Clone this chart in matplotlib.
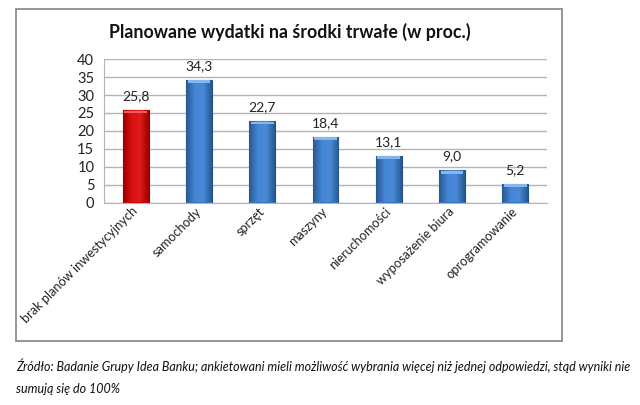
import matplotlib
matplotlib.use("Agg")
import matplotlib.pyplot as plt
import numpy as np
from matplotlib.patches import Rectangle
from matplotlib.colors import LinearSegmentedColormap

categories = ["brak planów inwestycyjnych", "samochody", "sprzęt", "maszyny",
              "nieruchomości", "wyposażenie biura", "oprogramowanie"]
values = [25.8, 34.3, 22.7, 18.4, 13.1, 9.0, 5.2]
highlight = [True, False, False, False, False, False, False]
yticks = [0, 5, 10, 15, 20, 25, 30, 35, 40]

title = "Planowane wydatki na środki trwałe (w proc.)"
note1 = "Źródło: Badanie Grupy Idea Banku; ankietowani mieli możliwość wybrania więcej niż jednej odpowiedzi, stąd wyniki nie"
note2 = "sumują się do 100%"

plt.rcParams['font.family'] = ['Lato', 'DejaVu Sans']

W, H = 640, 405
fig = plt.figure(figsize=(W / 100, H / 100), dpi=100)

# outer frame around the chart
fig.patches.append(Rectangle((16 / W, 1 - 341 / H), (562 - 16) / W, (341 - 9) / H,
                             transform=fig.transFigure, fill=False,
                             edgecolor="#8c8c8c", linewidth=1.3))

ax = fig.add_axes([104 / W, 1 - 202.5 / H, (547 - 104) / W, (202.5 - 59.3) / H])
x = np.arange(len(categories))
cols = ["#cc0a0a" if h else "#3b78c6" for h in highlight]
edges = ["#8a0000" if h else "#24508a" for h in highlight]
bars = ax.bar(x, values, width=0.41, color=cols, edgecolor=edges, linewidth=0.8, zorder=3)

# excel-like shading: horizontal gradient + lighter top bevel
red_cm = LinearSegmentedColormap.from_list("r", ["#9c0000", "#d81212", "#e01a1a", "#9c0000"])
blue_cm = LinearSegmentedColormap.from_list("b", ["#285890", "#4585d6", "#4a8ad8", "#285890"])
grad = np.linspace(0, 1, 64).reshape(1, -1)
for b, h in zip(bars, highlight):
    bx, bw, bh = b.get_x(), b.get_width(), b.get_height()
    im = ax.imshow(grad, cmap=red_cm if h else blue_cm, aspect="auto",
                   extent=(bx, bx + bw, 0, bh), zorder=3.5, interpolation="bilinear")
    im.set_clip_path(b)
    light = "#f06060" if h else "#86b6ee"
    ax.add_patch(Rectangle((bx + bw * 0.06, bh - 0.9), bw * 0.88, 0.75, color=light,
                           zorder=4, lw=0))

for xi, v in zip(x, values):
    ax.text(xi, v + 2.2, f"{v:.1f}".replace(".", ","), ha="center", va="bottom",
            fontsize=10, color="#222222")

ax.set_xlim(-0.5, len(categories) - 0.5)
ax.set_ylim(0, 40)
ax.set_yticks(yticks)
ax.set_yticklabels([str(t) for t in yticks], fontsize=10.5, color="#222222")
ax.yaxis.grid(True, color="#b4b4b4", linewidth=1.0, zorder=0)
ax.set_axisbelow(True)
ax.tick_params(axis="y", length=0, pad=7)
ax.tick_params(axis="x", length=0, pad=5)
ax.set_xticks(x)
ax.set_xticklabels(categories, rotation=45, ha="right", va="center",
                   rotation_mode="anchor", fontsize=9.2, color="#222222")
for s in ["top", "right"]:
    ax.spines[s].set_visible(False)
ax.spines["left"].set_color("#b4b4b4")
ax.spines["bottom"].set_color("#b4b4b4")

fig.text(290 / W, 1 - 32 / H, title, ha="center", va="center",
         fontsize=12.8, fontweight="bold", color="#111111")

fig.text(16 / W, 1 - 366 / H, note1, ha="left", va="center", fontsize=9,
         style="italic", color="#111111")
fig.text(16 / W, 1 - 389 / H, note2, ha="left", va="center", fontsize=9,
         style="italic", color="#111111")

fig.savefig("out.png", dpi=100)
